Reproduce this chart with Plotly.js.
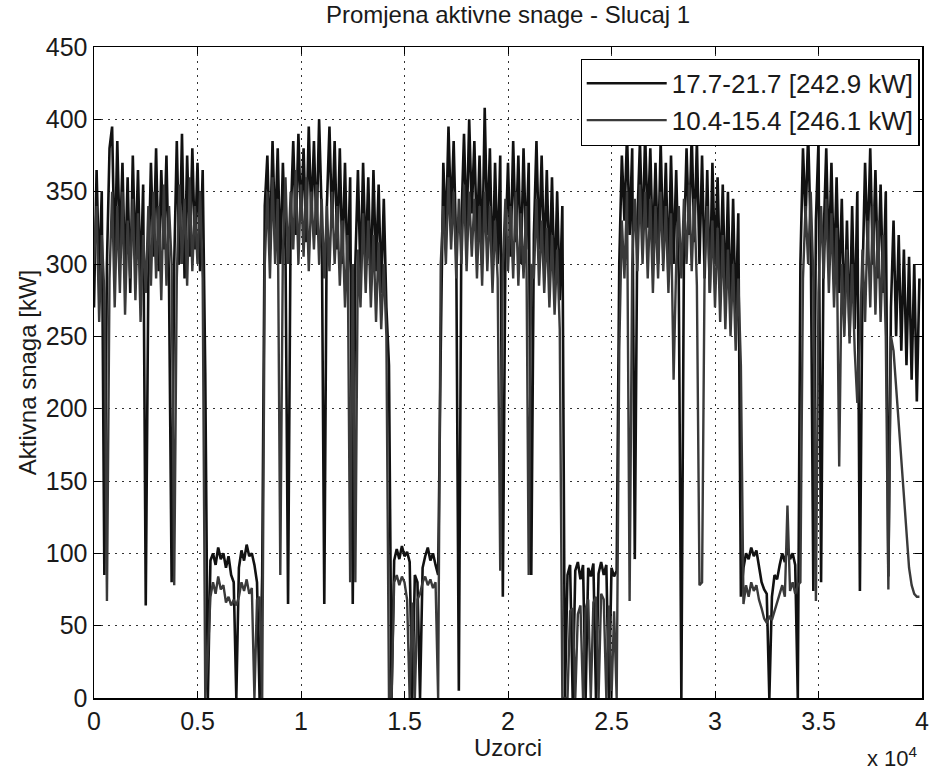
<!DOCTYPE html>
<html>
<head>
<meta charset="utf-8">
<script src="https://cdn.plot.ly/plotly-3.0.1.min.js"></script>
<style>html,body{margin:0;padding:0;background:#fff;}#chart{width:930px;height:773px;}</style>
</head>
<body>
<div id="chart"></div>
<script>
const SAMPLE_STEP = 125;

const seriesNames = ["17.7-21.7 [242.9 kW]", "10.4-15.4 [246.1 kW]"];

const xTickVals = [0, 5000, 10000, 15000, 20000, 25000, 30000, 35000, 40000];
const xTickText = ["0", "0.5", "1", "1.5", "2", "2.5", "3", "3.5", "4"];
const yTickVals = [0, 50, 100, 150, 200, 250, 300, 350, 400, 450];

// series 1 (kW)
const powerA = [
  270,365,290,350,85,300,380,395,300,385,310,370,290,360,280,375,300,365,285,355,64,290,370,305,380,295,365,310,375,285,80,300,385,300,390,290,375,305,380,310,370,295,365,225,
  0,95,100,92,104,96,100,90,98,85,80,0,90,102,95,106,98,100,92,80,0,85,
  340,375,310,385,320,380,300,370,310,65,330,385,320,390,330,380,315,395,330,385,320,400,335,65,340,395,325,385,310,380,300,370,290,360,65,300,365,290,370,300,360,285,365,295,355,280,345,270,230,0,
  95,103,96,105,98,101,94,0,85,80,0,90,98,104,95,100,92,85,
  240,370,320,395,330,385,310,5,330,390,320,400,335,385,315,375,300,408,320,380,290,370,300,375,70,310,370,305,385,315,375,300,380,310,370,85,320,385,310,375,300,365,290,360,280,350,275,340,0,
  85,92,0,88,94,82,92,0,90,84,93,0,86,94,85,92,0,90,84,88,
  300,375,330,390,320,380,96,330,385,315,390,325,380,305,370,300,385,310,370,290,375,300,365,290,0,310,380,320,390,315,385,300,375,290,365,280,370,300,360,285,355,275,350,265,345,260,335,70,90,
  100,96,104,98,102,90,80,75,72,0,70,85,82,92,100,94,104,96,100,92,0,
  300,380,330,390,320,74,330,385,80,320,380,300,370,290,360,280,345,260,330,250,340,255,350,74,290,370,310,380,300,365,290,355,280,350,84,270,330,250,320,240,310,230,305,220,300,205,290
];

// series 2 (kW)
const powerB = [
  300,340,260,320,280,67,290,350,270,340,280,350,265,330,290,345,275,335,260,320,280,340,285,350,290,340,275,355,285,340,300,78,290,355,300,345,285,360,295,340,300,350,290,0,
  30,70,80,72,84,75,78,66,70,64,68,64,70,80,74,82,72,76,0,68,70,0,
  300,350,290,360,300,345,85,310,360,300,350,310,365,300,355,305,360,295,350,310,355,300,345,290,340,295,350,300,340,285,330,270,320,80,300,80,310,270,335,280,330,270,320,260,315,255,300,250,0,0,
  80,85,78,84,80,68,0,66,0,68,72,80,84,78,82,76,80,0,
  300,340,300,360,310,350,290,345,300,355,295,350,305,345,290,340,285,350,295,340,280,330,290,88,300,345,295,340,290,350,285,335,290,340,85,300,290,345,285,330,280,325,270,320,265,310,255,0,0,
  0,60,62,0,58,64,0,62,68,0,66,70,0,72,68,0,64,0,60,0,
  240,330,290,350,67,300,345,295,355,300,350,290,345,280,340,290,350,295,340,280,335,220,300,340,290,345,300,355,295,345,285,78,80,300,340,280,330,270,325,260,320,255,310,250,300,240,290,230,65,
  78,70,80,74,78,68,62,55,52,56,54,60,66,72,78,70,133,74,80,72,78,
  80,290,340,300,350,290,67,280,340,290,345,280,335,270,325,160,300,250,310,245,300,240,204,250,310,260,330,270,340,265,330,260,320,250,75,250,240,215,185,160,135,110,90,78,72,70,70
];

const FONT = "Liberation Sans, Arial, Helvetica, sans-serif";
const TXT = "#1a1a1a";

const traces = [
  {type: "scatter", mode: "lines", name: seriesNames[0], y: powerA, x0: 0, dx: SAMPLE_STEP,
   line: {color: "#111111", width: 2.6}},
  {type: "scatter", mode: "lines", name: seriesNames[1], y: powerB, x0: 0, dx: SAMPLE_STEP,
   line: {color: "#3a3a3a", width: 2.4}}
];

const axisCommon = {
  showline: true, linecolor: "#000", linewidth: 1.5, mirror: "ticks",
  ticks: "inside", ticklen: 7, tickcolor: "#000", tickwidth: 1,
  showgrid: true, gridcolor: "#333", gridwidth: 1, griddash: "2px,5px",
  zeroline: false,
  tickfont: {family: FONT, size: 25, color: TXT}
};

const layout = {
  width: 930, height: 773,
  margin: {l: 94, r: 8, t: 47, b: 75},
  paper_bgcolor: "#fff", plot_bgcolor: "#fff",
  font: {family: FONT, color: TXT},
  title: {text: "Promjena aktivne snage - Slucaj 1", font: {family: FONT, size: 24, color: TXT},
          x: 0.5, xref: "paper", xanchor: "center", y: 0.992, yanchor: "top"},
  xaxis: Object.assign({}, axisCommon, {
    range: [0, 40000], tickmode: "array", tickvals: xTickVals, ticktext: xTickText,
    title: {text: "Uzorci", font: {family: FONT, size: 24, color: TXT}, standoff: 2}
  }),
  yaxis: Object.assign({}, axisCommon, {
    range: [0, 450], tickmode: "array", tickvals: yTickVals, ticksuffix: " ",
    title: {text: "Aktivna snaga [kW]", font: {family: FONT, size: 24, color: TXT}, standoff: 2}
  }),
  showlegend: true,
  legend: {x: 0.997, xanchor: "right", y: 0.982, yanchor: "top",
           bgcolor: "#fff", bordercolor: "#000", borderwidth: 1.2,
           font: {family: FONT, size: 26, color: TXT}, itemwidth: 80, tracegroupgap: 2},
  annotations: [
    {text: "x 10<sup>4</sup>", xref: "paper", yref: "paper", x: 0.998, y: -0.115,
     xanchor: "right", yanchor: "bottom", showarrow: false, font: {family: FONT, size: 22, color: TXT}}
  ]
};

Plotly.newPlot("chart", traces, layout, {displayModeBar: false, staticPlot: true});
</script>
</body>
</html>
